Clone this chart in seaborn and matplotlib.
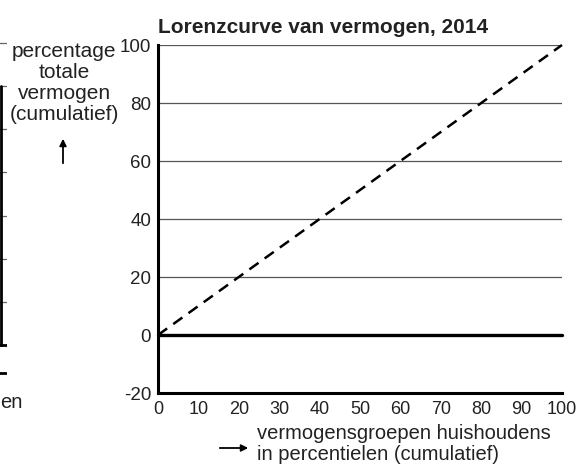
import pandas as pd
import seaborn as sns
import matplotlib.pyplot as plt

# data
percentiles = [0, 100]
equality_line = [0, 100]
zero_line = [0, 0]
x_ticks = [0, 10, 20, 30, 40, 50, 60, 70, 80, 90, 100]
y_ticks = [-20, 0, 20, 40, 60, 80, 100]

# cut-off neighbouring chart on the left edge
frag_levels = [1, 2, 3, 4, 5, 6, 7]
frag_bar_top = 6

sns.set_style("white")
plt.rcParams['font.family'] = ['Liberation Sans', 'DejaVu Sans']
plt.rcParams['text.color'] = '#222222'
plt.rcParams['axes.unicode_minus'] = False

W, H = 580, 470
fig = plt.figure(figsize=(W / 100, H / 100), dpi=100)


def px(x, y):
    # pixel position (from top-left) to figure fraction
    return x / W, 1 - y / H


ax = fig.add_axes([158 / W, 77 / H, 404 / W, 348 / H])

df = pd.DataFrame({'pct': percentiles, 'gelijk': equality_line, 'nul': zero_line})
sns.lineplot(data=df, x='pct', y='gelijk', ax=ax, color='black', lw=1.8,
             linestyle=(0, (4.5, 3)), clip_on=False, zorder=3)
sns.lineplot(data=df, x='pct', y='nul', ax=ax, color='black', lw=2.4,
             clip_on=False, zorder=3)

ax.set_xlim(0, 100)
ax.set_ylim(-20, 100)
ax.set_xticks(x_ticks)
ax.set_yticks(y_ticks)
ax.yaxis.grid(True, color='#555555', lw=0.9)
ax.xaxis.grid(False)
for s in ['top', 'right']:
    ax.spines[s].set_visible(False)
for s in ['left', 'bottom']:
    ax.spines[s].set_linewidth(2.2)
    ax.spines[s].set_color('black')
ax.tick_params(axis='y', length=0, pad=5, labelsize=13.5, labelcolor='#222222')
ax.tick_params(axis='x', direction='inout', length=9, width=2, color='black',
               pad=1, labelsize=13, labelcolor='#222222')
ax.set_xlabel('')
ax.set_ylabel('')
ax.set_title('Lorenzcurve van vermogen, 2014', loc='left', fontweight='bold',
             fontsize=15, pad=9, color='#222222')
ax.title.set_x(4 / 404)

# axis captions with arrows
fig.text(*px(64, 42), 'percentage\ntotale\nvermogen\n(cumulatief)', ha='center',
         va='top', fontsize=15, linespacing=1.13)
fig.add_artist(plt.Annotation('', xy=px(63, 136), xytext=px(63, 166),
                              xycoords='figure fraction',
                              arrowprops=dict(arrowstyle='-|>', color='black',
                                              lw=1.3, mutation_scale=10)))
fig.text(*px(257, 444), 'vermogensgroepen huishoudens\nin percentielen (cumulatief)',
         ha='left', va='center', fontsize=14.5, linespacing=1.13)
fig.add_artist(plt.Annotation('', xy=px(251, 448), xytext=px(217, 448),
                              xycoords='figure fraction',
                              arrowprops=dict(arrowstyle='-|>', color='black',
                                              lw=1.3, mutation_scale=10)))

# fragment of the neighbouring chart
frag = fig.add_axes([-60 / W, 90 / H, 67 / W, 350 / H])
frag.set_ylim(-0.81, 7.3)
frag.set_xlim(0, 1)
frag.set_yticks(frag_levels)
frag.yaxis.grid(True, color='#666666', lw=0.9)
frag.set_xticks([])
frag.tick_params(axis='y', length=0, labelleft=False)
for s in frag.spines.values():
    s.set_visible(False)
frag.plot([0.91, 0.91], [0, frag_bar_top], color='black', lw=2)
frag.plot([0, 1], [0, 0], color='black', lw=2)
frag.plot([0, 1], [-0.65, -0.65], color='black', lw=2)
fig.text(*px(0, 402), 'en', ha='left', va='center', fontsize=14.5)

fig.savefig('out.png', dpi=100)
